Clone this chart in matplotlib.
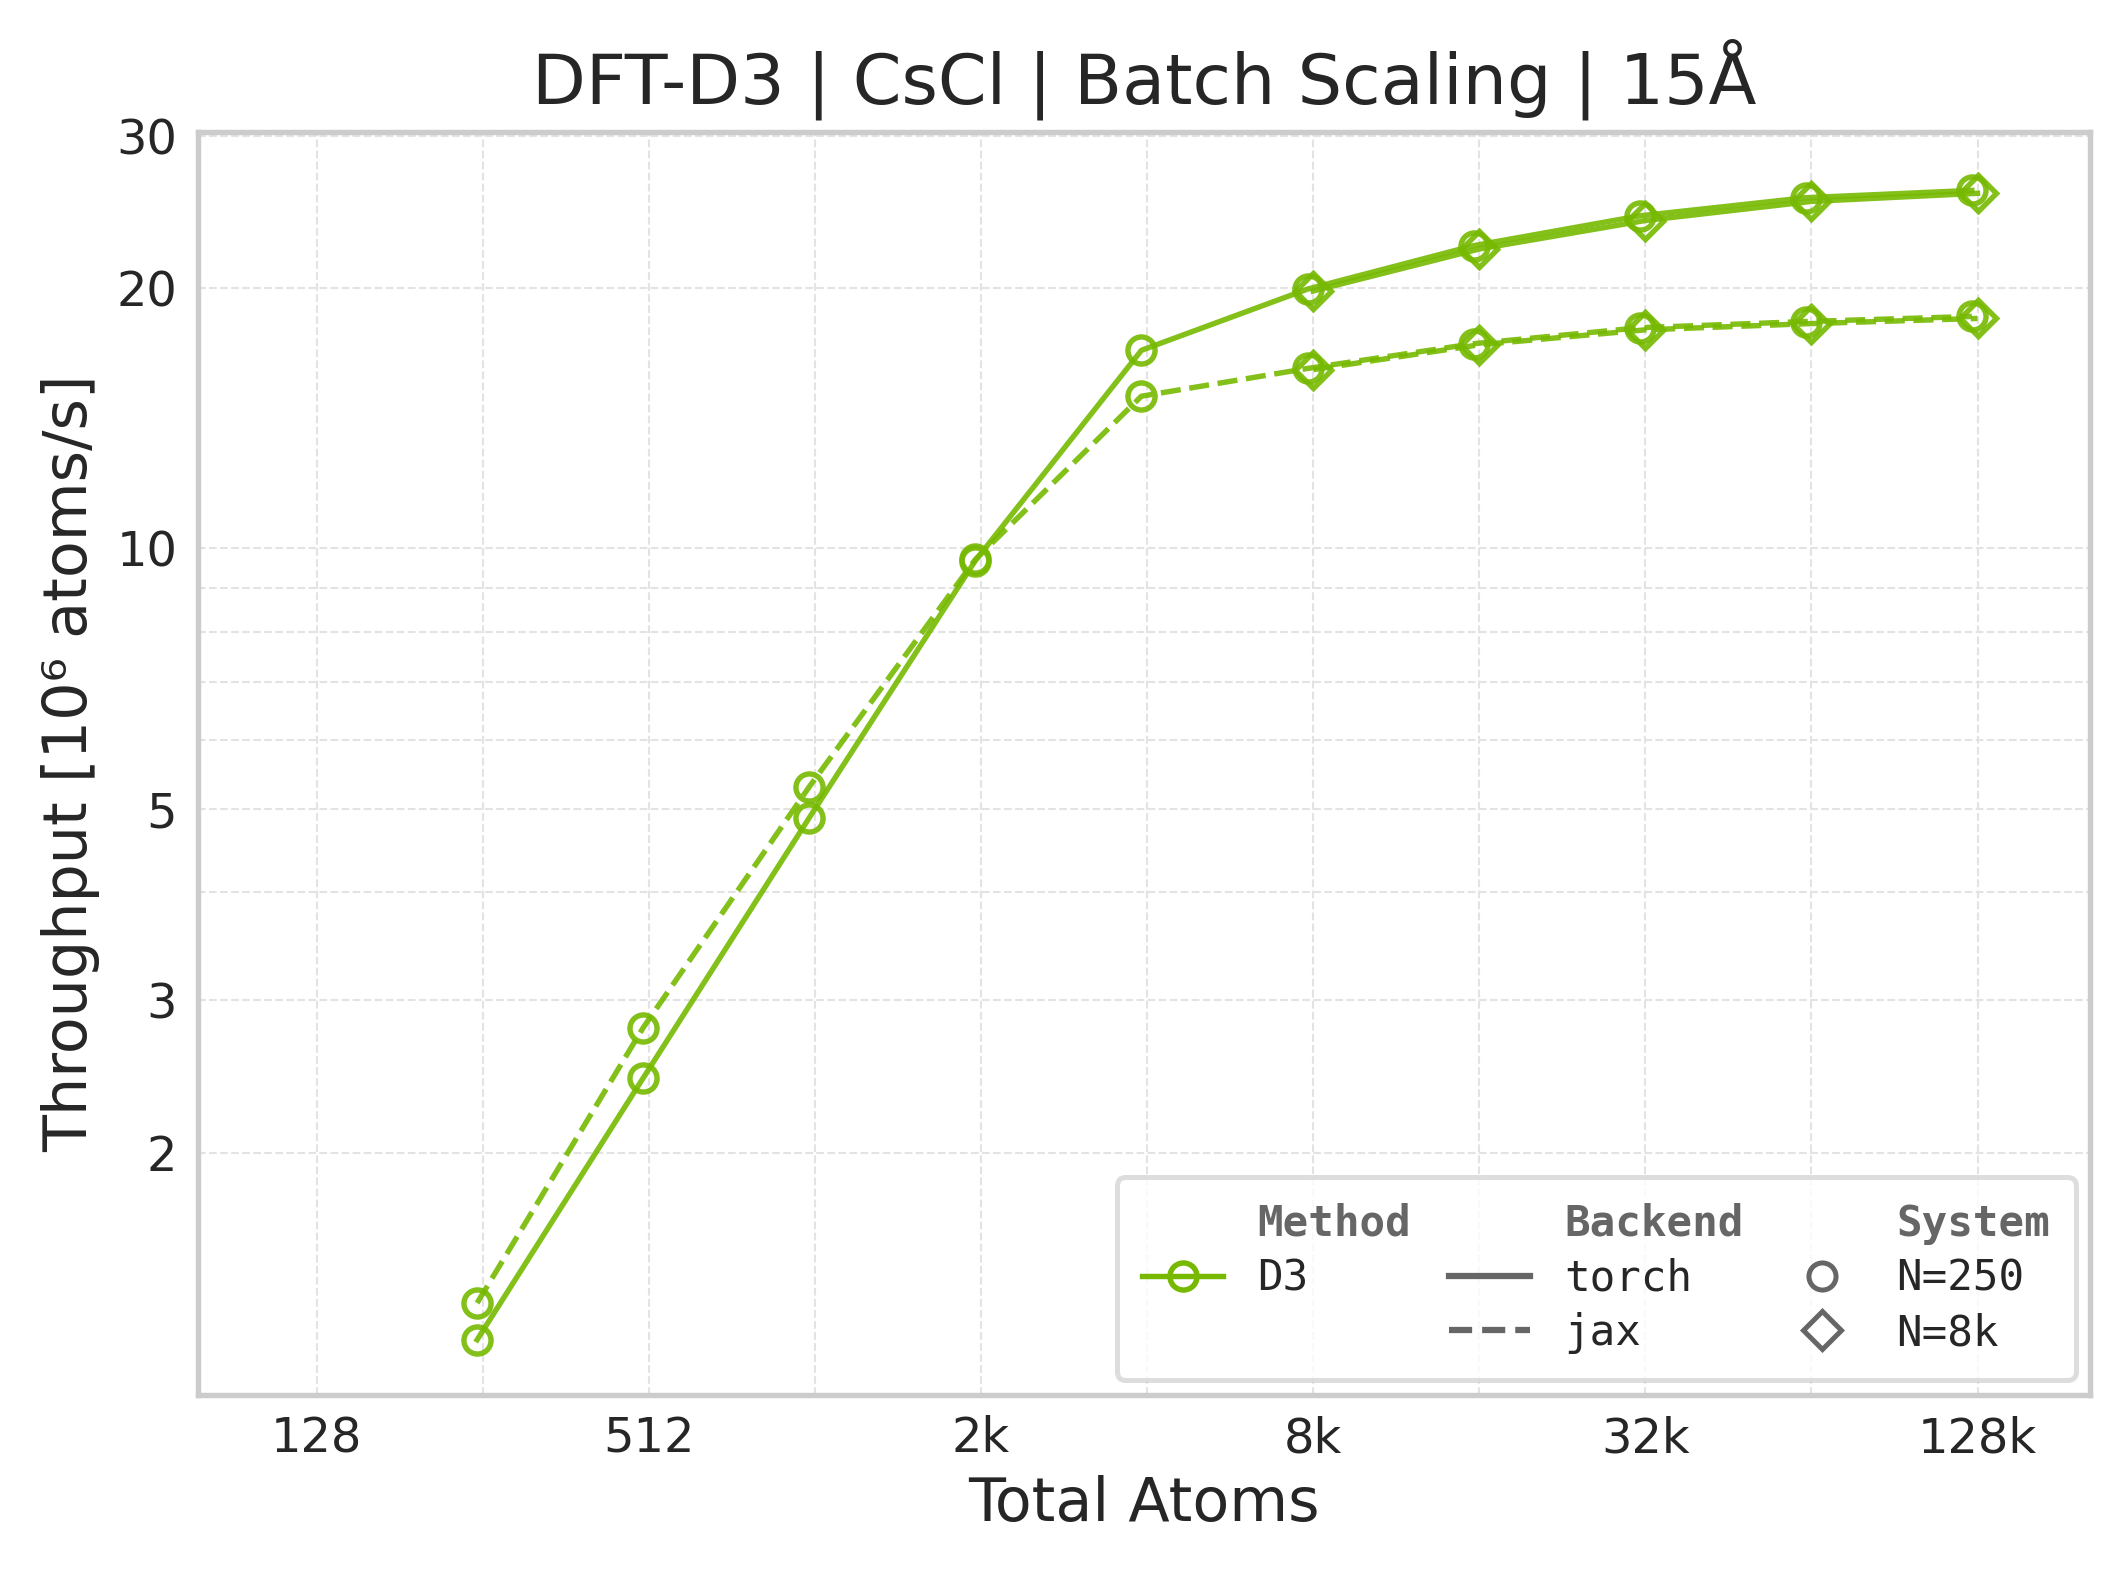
import numpy as np
import matplotlib
matplotlib.use("Agg")
import matplotlib.pyplot as plt
from matplotlib.lines import Line2D
from matplotlib.ticker import FixedLocator, NullFormatter

# data (throughput in 1e6 atoms/s)
atoms_250 = [250, 500, 1000, 2000, 4000, 8000, 16000, 32000, 64000, 128000]
torch_250 = [1.215, 2.44, 4.88, 9.68, 16.95, 19.95, 22.4, 24.25, 25.45, 25.95]
jax_250 = [1.34, 2.79, 5.30, 9.71, 15.0, 16.15, 17.25, 18.0, 18.3, 18.55]

atoms_8k = [8192, 16384, 32768, 65536, 131072]
torch_8k = [19.85, 22.2, 23.95, 25.2, 25.75]
jax_8k = [16.1, 17.2, 17.9, 18.2, 18.45]

xticks = [128, 512, 2048, 8192, 32768, 131072]
xtick_labels = ["128", "512", "2k", "8k", "32k", "128k"]
xminor = [256, 1024, 4096, 16384, 65536]
yticks = [2, 3, 5, 10, 20, 30]
yminor = [4, 6, 7, 8, 9]

green = "#76B900"
txt = "#262626"
plt.rcParams["font.family"] = ["DejaVu Sans"]

fig = plt.figure(figsize=(2118 / 300, 1574 / 300), dpi=300)
ax = fig.add_axes([0.0935, 0.114, 0.8935, 0.802])

kw = dict(color=green, alpha=0.9, lw=1.3, markersize=6.5, markerfacecolor="none",
          markeredgewidth=1.3)
ax.plot(atoms_250, torch_250, ls="-", marker="o", **kw)
ax.plot(atoms_250, jax_250, ls="--", marker="o", **kw)
ax.plot(atoms_8k, torch_8k, ls="-", marker="D", **dict(kw, markersize=6))
ax.plot(atoms_8k, jax_8k, ls="--", marker="D", **dict(kw, markersize=6))

ax.set_xscale("log")
ax.set_yscale("log")
ax.set_xlim(78, 210000)
ax.set_ylim(1.05, 30.3)

ax.xaxis.set_major_locator(FixedLocator(xticks))
ax.set_xticklabels(xtick_labels)
ax.xaxis.set_minor_locator(FixedLocator(xminor))
ax.xaxis.set_minor_formatter(NullFormatter())
ax.yaxis.set_major_locator(FixedLocator(yticks))
ax.set_yticklabels([str(v) for v in yticks])
ax.yaxis.set_minor_locator(FixedLocator(yminor))
ax.yaxis.set_minor_formatter(NullFormatter())

ax.grid(True, which="both", ls="--", lw=0.5, color="#e3e3e3")
ax.set_axisbelow(True)
ax.tick_params(which="both", length=0, labelsize=11.5, colors=txt, pad=5)
for s in ax.spines.values():
    s.set_color("#cccccc")
    s.set_linewidth(1.3)

ax.set_xlabel("Total Atoms", fontsize=14.5, color=txt, labelpad=3)
ax.set_ylabel("Throughput [10⁶ atoms/s]", fontsize=14.5, color=txt, labelpad=4)
ax.set_title("DFT-D3 | CsCl | Batch Scaling | 15Å", fontsize=16.8, color=txt, pad=7)

# legend: three titled columns
blank = Line2D([], [], ls="none")
gray = "#666666"
handles = [
    blank,
    Line2D([], [], color=green, lw=1.3, marker="o", markersize=6.5,
           markerfacecolor="none", markeredgewidth=1.3),
    blank,
    blank,
    Line2D([], [], color=gray, lw=1.5, ls="-"),
    Line2D([], [], color=gray, lw=1.5, ls="--"),
    blank,
    Line2D([], [], color=gray, ls="none", marker="o", markersize=6.5,
           markerfacecolor="none", markeredgewidth=1.2),
    Line2D([], [], color=gray, ls="none", marker="D", markersize=6.5,
           markerfacecolor="none", markeredgewidth=1.2),
]
labels = ["Method", "D3", "", "Backend", "torch", "jax", "System", "N=250", "N=8k"]
leg = ax.legend(handles, labels, ncol=3, loc="lower right",
                prop={"family": "DejaVu Sans Mono", "size": 10.2},
                frameon=True, fancybox=True, borderpad=0.6, columnspacing=0.9,
                handlelength=1.9, handletextpad=0.8, labelspacing=0.3,
                borderaxespad=0.35)
leg.get_frame().set_edgecolor("#d5d5d5")
leg.get_frame().set_linewidth(1.2)
for t in leg.get_texts():
    if t.get_text() in ("Method", "Backend", "System"):
        t.set_fontweight("bold")
        t.set_color(gray)
    else:
        t.set_color(txt)

fig.savefig("out.png", dpi=300)
